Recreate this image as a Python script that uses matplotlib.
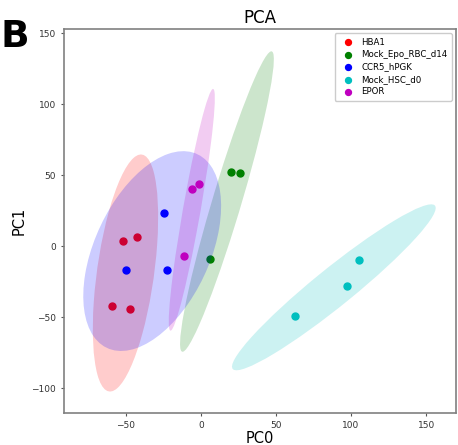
import numpy as np
import matplotlib
matplotlib.use("Agg")
import matplotlib.pyplot as plt
from matplotlib.patches import Ellipse
import matplotlib.transforms as transforms

groups = ["HBA1", "Mock_Epo_RBC_d14", "CCR5_hPGK", "Mock_HSC_d0", "EPOR"]
colors = ["r", "g", "b", "c", "m"]

hba1_x = [-52.0, -42.4, -59.3, -46.9]
hba1_y = [3.7, 6.8, -41.8, -43.9]
epo_x = [19.8, 26.4, 6.0]
epo_y = [52.1, 51.6, -9.2]
ccr5_x = [-24.4, -50.0, -22.7]
ccr5_y = [23.7, -16.9, -16.9]
hsc_x = [105.5, 97.3, 62.9]
hsc_y = [-9.9, -27.9, -48.8]
epor_x = [-5.6, -1.1, -11.3]
epor_y = [40.4, 43.7, -7.0]

xs = [hba1_x, epo_x, ccr5_x, hsc_x, epor_x]
ys = [hba1_y, epo_y, ccr5_y, hsc_y, epor_y]

x_ticks = [-50, 0, 50, 100, 150]
y_ticks = [-100, -50, 0, 50, 100, 150]


def confidence_ellipse(x, y, ax, n_std=3.0, **kwargs):
    x = np.asarray(x); y = np.asarray(y)
    cov = np.cov(x, y)
    pearson = cov[0, 1] / np.sqrt(cov[0, 0] * cov[1, 1])
    rx = np.sqrt(1 + pearson)
    ry = np.sqrt(1 - pearson)
    ell = Ellipse((0, 0), width=rx * 2, height=ry * 2, **kwargs)
    sx = np.sqrt(cov[0, 0]) * n_std
    sy = np.sqrt(cov[1, 1]) * n_std
    tr = transforms.Affine2D().rotate_deg(45).scale(sx, sy).translate(np.mean(x), np.mean(y))
    ell.set_transform(tr + ax.transData)
    return ax.add_patch(ell)


fig = plt.figure(figsize=(4.58, 4.45), dpi=100)
ax = fig.add_axes([0.140, 0.073, 0.856, 0.862])

for g, c, x, y in zip(groups, colors, xs, ys):
    ax.scatter(x, y, c=c, s=25, label=g, zorder=2)
    confidence_ellipse(x, y, ax, n_std=3.0, facecolor=c, alpha=0.2, edgecolor="none", zorder=2)

ax.set_xlim(-91, 170)
ax.set_ylim(-117, 153)
ax.set_xticks(x_ticks)
ax.set_yticks(y_ticks)
ax.tick_params(labelsize=6.5, length=2.5, color="#555555", labelcolor="#333333")
for s in ax.spines.values():
    s.set_color("#808080")
    s.set_linewidth(1.2)
ax.set_title("PCA", fontsize=12, pad=4)
ax.set_xlabel("PC0", fontsize=10.5, labelpad=1)
ax.set_ylabel("PC1", fontsize=10.5, labelpad=3)
ax.legend(loc="upper right", fontsize=6.2, markerscale=0.85, handletextpad=0.6,
          labelspacing=0.4, borderpad=0.5, framealpha=1)

fig.text(1 / 458, 1 - 47 / 445, "B", fontsize=27, fontweight="bold",
         va="baseline", ha="left")

fig.savefig("out.png", dpi=100)
